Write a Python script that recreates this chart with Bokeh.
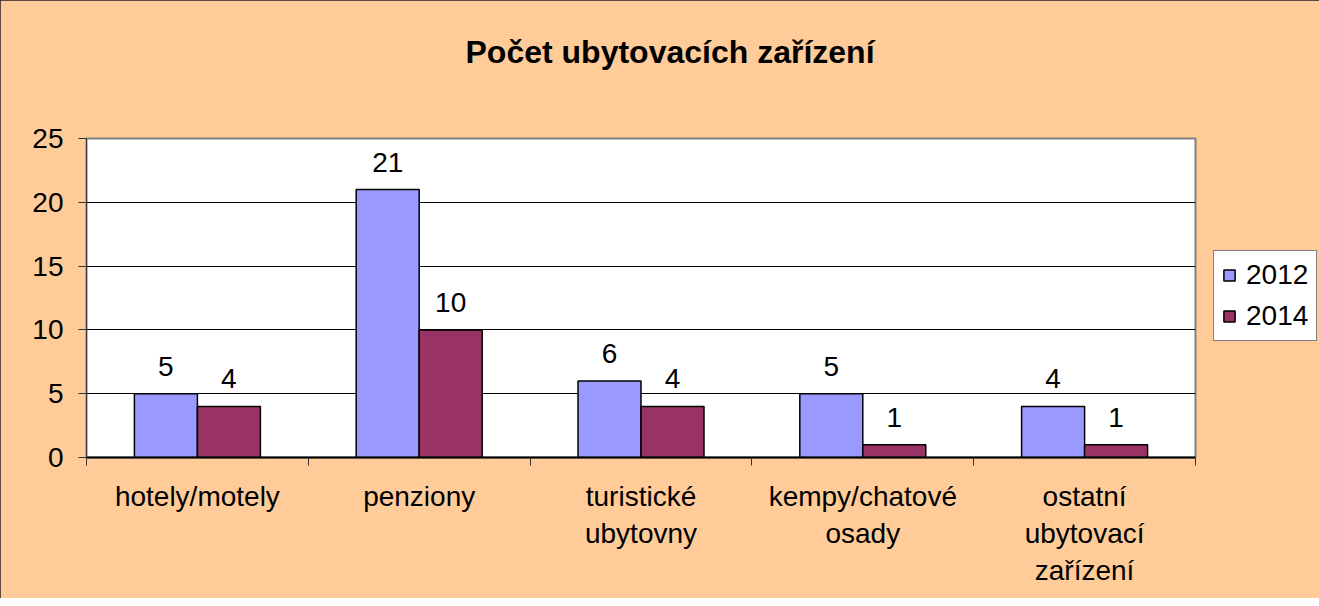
import numpy as np
from bokeh.plotting import figure
from bokeh.models import (ColumnDataSource, FixedTicker, LabelSet, Legend, LegendItem,
                          Title, Range1d)
from bokeh.core.properties import value
from bokeh.embed import file_html
from bokeh.resources import INLINE

# ---- data ----
categories = ["hotely/motely", "penziony", "turistické\nubytovny",
              "kempy/chatové\nosady", "ostatní\nubytovací\nzařízení"]
years = ["2012", "2014"]
values_2012 = [5, 21, 6, 5, 4]
values_2014 = [4, 10, 4, 1, 1]
y_ticks = [0, 5, 10, 15, 20, 25]
title_text = "Počet ubytovacích zařízení"

FONT = "Liberation Sans"
C2012 = "#9999FF"
C2014 = "#993366"
BG = "#FFCC99"

n = len(categories)
centers = np.arange(n) + 0.5
bar_w = 0.284

src12 = ColumnDataSource(dict(x=centers - bar_w / 2, top=values_2012,
                              label=[str(v) for v in values_2012]))
src14 = ColumnDataSource(dict(x=centers + bar_w / 2, top=values_2014,
                              label=[str(v) for v in values_2014]))

p = figure(frame_width=1109, frame_height=319,
           x_range=Range1d(0, n), y_range=Range1d(0, 25),
           output_backend="svg", toolbar_location=None,
           min_border_left=86, min_border_bottom=141, min_border_top=138,
           min_border_right=116,
           background_fill_color="white", border_fill_color=BG,
           outline_line_color="#808080", outline_line_width=2)
p.styles = {"outline": "1px solid #222", "outline-offset": "-1px"}

# spacer + title above
p.add_layout(Title(text=" ", text_font_size="46px"), "above")
p.add_layout(Title(text=title_text, text_font=FONT, text_font_size="32px",
                   text_font_style="bold", align="left", offset=379,
                   text_color="black"), "above")

r12 = p.vbar(x="x", top="top", width=bar_w, source=src12, fill_color=C2012,
             line_color="black", line_width=1.5)
r14 = p.vbar(x="x", top="top", width=bar_w, source=src14, fill_color=C2014,
             line_color="black", line_width=1.5)

for s in (src12, src14):
    p.add_layout(LabelSet(x="x", y="top", text="label", source=s,
                          text_align="center", text_baseline="alphabetic",
                          y_offset=18, text_font=value(FONT),
                          text_font_size=value("28px"),
                          text_color="black"))

# y axis
p.yaxis.ticker = FixedTicker(ticks=y_ticks)
p.yaxis.major_tick_out = 8
p.yaxis.major_tick_in = 0
p.yaxis.minor_tick_line_color = None
p.yaxis.axis_line_color = "#333333"
p.yaxis.major_tick_line_color = "#333333"
p.yaxis.major_label_text_font = FONT
p.yaxis.major_label_text_font_size = "28px"
p.yaxis.major_label_text_color = "black"
p.yaxis.major_label_standoff = 15

# x axis
p.xaxis.ticker = FixedTicker(ticks=list(centers), minor_ticks=list(range(n + 1)))
p.xaxis.major_label_overrides = {float(c): lab for c, lab in zip(centers, categories)}
p.xaxis.major_tick_line_color = None
p.xaxis.minor_tick_out = 8
p.xaxis.minor_tick_in = 0
p.xaxis.minor_tick_line_color = "#333333"
p.xaxis.axis_line_color = "black"
p.xaxis.axis_line_width = 2
p.xaxis.major_label_text_font = FONT
p.xaxis.major_label_text_font_size = "28px"
p.xaxis.major_label_text_color = "black"
p.xaxis.major_label_standoff = 15

p.xgrid.grid_line_color = None
p.ygrid.ticker = FixedTicker(ticks=y_ticks)
p.ygrid.grid_line_color = "black"
p.ygrid.grid_line_width = 1

# legend in the right panel
legend = Legend(items=[LegendItem(label=years[0], renderers=[r12]),
                       LegendItem(label=years[1], renderers=[r14])],
                location=(18, 116), margin=0, padding=8, spacing=9,
                glyph_width=14, glyph_height=14, label_standoff=10,
                label_text_font=FONT, label_text_font_size="28px",
                label_text_color="black",
                border_line_color="black", border_line_width=1,
                background_fill_color="white", background_fill_alpha=1)
p.add_layout(legend, "right")

open("out.html", "w").write(file_html(p, INLINE))
